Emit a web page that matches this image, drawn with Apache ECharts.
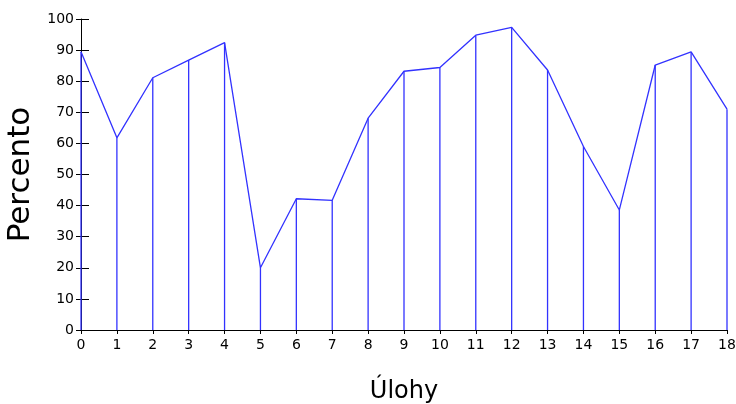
<!DOCTYPE html>
<html>
<head>
<meta charset="utf-8">
<script src="https://cdn.jsdelivr.net/npm/echarts@6/dist/echarts.min.js"></script>
<style>
  html, body { margin: 0; padding: 0; background: #fff; }
  #chart { width: 736px; height: 404px; }
</style>
</head>
<body>
<div id="chart"></div>
<script>
// úlohy 0..18 a percento úspešnosti
let ulohy = [0, 1, 2, 3, 4, 5, 6, 7, 8, 9, 10, 11, 12, 13, 14, 15, 16, 17, 18];
let percento = [89.5, 61.8, 81.1, 86.8, 92.4, 20, 42.2, 41.7, 68.1, 83.2, 84.4, 94.8, 97.3, 83.6, 59, 38.6, 85.2, 89.4, 71];

let pts = ulohy.map(function (u, i) { return [u, percento[i]]; });
let blue = '#3232ff';
let font = 'DejaVu Sans';

let chart = echarts.init(document.getElementById('chart'));
chart.setOption({
  animation: false,
  grid: { left: 81, right: 9, top: 19, bottom: 74, outerBoundsMode: 'none', containLabel: false },
  xAxis: {
    type: 'value', min: 0, max: 18, interval: 1,
    name: 'Úlohy', nameLocation: 'middle', nameGap: 50,
    nameTextStyle: { fontFamily: font, fontSize: 24, color: '#000' },
    axisLine: { lineStyle: { color: '#000', width: 1 } },
    axisTick: { length: 4, lineStyle: { color: '#000' } },
    axisLabel: { fontFamily: font, fontSize: 14, color: '#000', margin: 8 },
    splitLine: { show: false }
  },
  yAxis: [{
    type: 'value', min: 0, max: 100, interval: 10,
    name: 'Percento', nameLocation: 'middle', nameGap: 42,
    nameTextStyle: { fontFamily: font, fontSize: 31, color: '#000' },
    axisLine: { show: true, lineStyle: { color: '#000', width: 1 } },
    axisTick: { show: true, length: 5, lineStyle: { color: '#000' } },
    axisLabel: { fontFamily: font, fontSize: 14, color: '#000', margin: 7 },
    splitLine: { show: false }
  }, {
    type: 'value', min: 0, max: 100, interval: 10, position: 'left', offset: 0,
    axisLine: { show: false },
    axisTick: { show: true, inside: true, length: 8, lineStyle: { color: '#000' } },
    axisLabel: { show: false },
    splitLine: { show: false }
  }],
  series: [{
    type: 'bar',
    data: pts,
    barWidth: 1.3,
    itemStyle: { color: blue },
    z: 2
  }, {
    type: 'line',
    data: pts,
    symbol: 'none',
    lineStyle: { color: blue, width: 1.3 },
    z: 3
  }]
});
</script>
</body>
</html>
